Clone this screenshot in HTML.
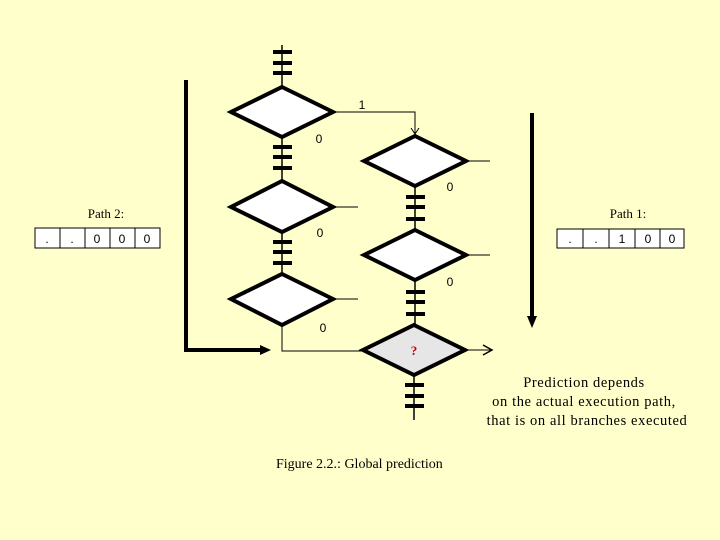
<!DOCTYPE html>
<html><head><meta charset="utf-8"><style>
html,body{margin:0;padding:0;background:#ffffcc;}
svg{display:block}
text{font-family:"Liberation Serif",serif;fill:#000}
.s{font-family:"Liberation Sans",sans-serif}
</style></head><body>
<svg width="720" height="540" viewBox="0 0 720 540">
<rect width="720" height="540" fill="#ffffcc"/>
<g stroke="#000" fill="none">
 <line x1="282" y1="45" x2="282" y2="87" stroke-width="1.5"/>
 <line x1="282" y1="137" x2="282" y2="181" stroke-width="1.5"/>
 <line x1="282" y1="232" x2="282" y2="274" stroke-width="1.5"/>
 <polyline points="282,325 282,351 363,351" stroke-width="1"/>
 <polyline points="333,112 415,112 415,136" stroke-width="1"/>
 <polyline points="411,128 415,134 419,128" stroke-width="1"/>
 <line x1="415" y1="186" x2="415" y2="230" stroke-width="1.5"/>
 <line x1="415" y1="280" x2="415" y2="325" stroke-width="1.5"/>
 <line x1="414" y1="375" x2="414" y2="420" stroke-width="1.5"/>
 <line x1="333" y1="207" x2="358" y2="207"/>
 <line x1="333" y1="299" x2="358" y2="299"/>
 <line x1="466" y1="161" x2="490" y2="161"/>
 <line x1="466" y1="255" x2="490" y2="255"/>
 <line x1="465" y1="350" x2="492" y2="350"/>
 <polyline points="483,345 492,350 483,355" stroke-width="1.5"/>
 <g stroke-width="4">
  <line x1="273" y1="52" x2="292" y2="52"/><line x1="273" y1="63" x2="292" y2="63"/><line x1="273" y1="73" x2="292" y2="73"/>
  <line x1="273" y1="147" x2="292" y2="147"/><line x1="273" y1="157" x2="292" y2="157"/><line x1="273" y1="168" x2="292" y2="168"/>
  <line x1="273" y1="242" x2="292" y2="242"/><line x1="273" y1="252" x2="292" y2="252"/><line x1="273" y1="263" x2="292" y2="263"/>
  <line x1="406" y1="197" x2="425" y2="197"/><line x1="406" y1="207" x2="425" y2="207"/><line x1="406" y1="219" x2="425" y2="219"/>
  <line x1="406" y1="292" x2="425" y2="292"/><line x1="406" y1="302" x2="425" y2="302"/><line x1="406" y1="314" x2="425" y2="314"/>
  <line x1="405" y1="385" x2="424" y2="385"/><line x1="405" y1="396" x2="424" y2="396"/><line x1="405" y1="406" x2="424" y2="406"/>
 </g>
 <g stroke-width="4" fill="#fff">
  <polygon points="282,87 333,112 282,137 231,112"/>
  <polygon points="282,181 333,207 282,232 231,207"/>
  <polygon points="282,274 333,299 282,325 231,299"/>
  <polygon points="415,136 466,161 415,186 364,161"/>
  <polygon points="415,230 466,255 415,280 364,255"/>
  <polygon points="414,325 465,350 414,375 363,350" fill="#e6e6e6"/>
 </g>
 <polyline points="186,80 186,350 262,350" stroke-width="4"/>
 <polygon points="260,345 271,350 260,355" fill="#000" stroke="none"/>
 <line x1="532" y1="113" x2="532" y2="318" stroke-width="4"/>
 <polygon points="527,316 532,328 537,316" fill="#000" stroke="none"/>
 <rect x="35" y="228" width="125" height="20" fill="#fff" stroke-width="1"/>
 <line x1="60" y1="228" x2="60" y2="248"/><line x1="85" y1="228" x2="85" y2="248"/><line x1="110" y1="228" x2="110" y2="248"/><line x1="135" y1="228" x2="135" y2="248"/>
 <rect x="557" y="229" width="127" height="19" fill="#fff" stroke-width="1"/>
 <line x1="583" y1="229" x2="583" y2="248"/><line x1="609" y1="229" x2="609" y2="248"/><line x1="635" y1="229" x2="635" y2="248"/><line x1="660" y1="229" x2="660" y2="248"/>
</g>
<g font-size="12" class="s">
 <text class="s" x="362" y="109" text-anchor="middle">1</text>
 <text class="s" x="319" y="143" text-anchor="middle">0</text>
 <text class="s" x="450" y="191" text-anchor="middle">0</text>
 <text class="s" x="320" y="237" text-anchor="middle">0</text>
 <text class="s" x="450" y="286" text-anchor="middle">0</text>
 <text class="s" x="323" y="332" text-anchor="middle">0</text>
 <text class="s" x="47" y="243" text-anchor="middle">.</text>
 <text class="s" x="72" y="243" text-anchor="middle">.</text>
 <text class="s" x="97" y="243" text-anchor="middle">0</text>
 <text class="s" x="122" y="243" text-anchor="middle">0</text>
 <text class="s" x="147" y="243" text-anchor="middle">0</text>
 <text class="s" x="570" y="243" text-anchor="middle">.</text>
 <text class="s" x="596" y="243" text-anchor="middle">.</text>
 <text class="s" x="622" y="243" text-anchor="middle">1</text>
 <text class="s" x="648" y="243" text-anchor="middle">0</text>
 <text class="s" x="672" y="243" text-anchor="middle">0</text>
</g>
<text x="414" y="355" text-anchor="middle" font-size="13" font-weight="bold" style="fill:#cc0000">?</text>
<text x="106" y="218" text-anchor="middle" font-size="13">Path 2:</text>
<text x="628" y="218" text-anchor="middle" font-size="13">Path 1:</text>
<g letter-spacing="0.6">
<text x="584" y="387" text-anchor="middle" font-size="14.5">Prediction depends</text>
<text x="584" y="406" text-anchor="middle" font-size="14.5">on the actual execution path,</text>
<text x="587" y="425" text-anchor="middle" font-size="14.5">that is on all branches executed</text>
</g>
<text x="276" y="468" font-size="14">Figure 2.2.: Global prediction</text>
</svg>
</body></html>
